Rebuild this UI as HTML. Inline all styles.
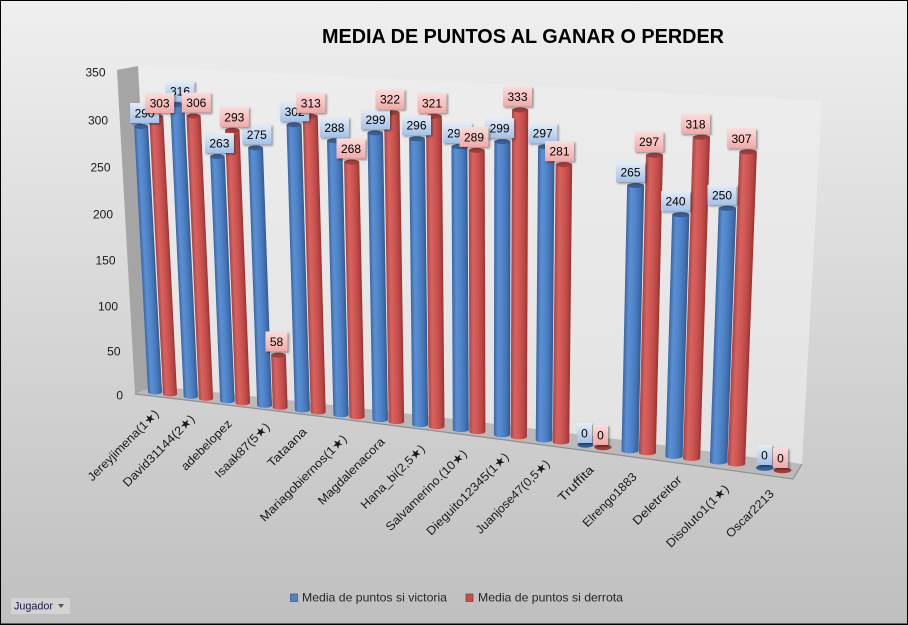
<!DOCTYPE html>
<html>
<head>
<meta charset="utf-8">
<style>
html,body{margin:0;padding:0;background:#fff;}
svg{display:block;}
.lb rect{fill:url(#lB);filter:url(#sh);}
.lr rect{fill:url(#lR);filter:url(#sh);}
.lb text,.lr text{font-family:"Liberation Sans",sans-serif;font-size:12px;text-anchor:middle;fill:#000;}
.ax{font-family:"Liberation Sans",sans-serif;font-size:12px;fill:#1a1a1a;text-anchor:end;}
.cat{font-family:"Liberation Sans","DejaVu Sans",sans-serif;font-size:12px;fill:#1a1a1a;text-anchor:middle;}
</style>
</head>
<body>
<svg width="908" height="625" viewBox="0 0 908 625" xmlns="http://www.w3.org/2000/svg">
<defs>
<linearGradient id="bgG" x1="0" y1="0" x2="0" y2="1"><stop offset="0" stop-color="#efefef"/><stop offset="1" stop-color="#bfbfbf"/></linearGradient>
<linearGradient id="wallG" gradientUnits="userSpaceOnUse" x1="0" y1="66" x2="0" y2="464"><stop offset="0" stop-color="#ededed"/><stop offset="1" stop-color="#e2e2e2"/></linearGradient>
<linearGradient id="bB" x1="0" y1="0" x2="1" y2="0"><stop offset="0" stop-color="#3a66a3"/><stop offset="0.25" stop-color="#5a8fd5"/><stop offset="0.5" stop-color="#5286ca"/><stop offset="0.8" stop-color="#4272b2"/><stop offset="1" stop-color="#32598f"/></linearGradient>
<linearGradient id="rB" x1="0" y1="0" x2="1" y2="0"><stop offset="0" stop-color="#ac4340"/><stop offset="0.25" stop-color="#d9625f"/><stop offset="0.5" stop-color="#cf5855"/><stop offset="0.8" stop-color="#ba4744"/><stop offset="1" stop-color="#953432"/></linearGradient>
<linearGradient id="lB" x1="0" y1="0" x2="0" y2="1"><stop offset="0" stop-color="#e4edf8"/><stop offset="1" stop-color="#a3c2e8"/></linearGradient>
<linearGradient id="lR" x1="0" y1="0" x2="0" y2="1"><stop offset="0" stop-color="#fddcdb"/><stop offset="1" stop-color="#f0aaa8"/></linearGradient>
<filter id="sh" x="-30%" y="-30%" width="170%" height="170%"><feDropShadow dx="1.5" dy="1.5" stdDeviation="1" flood-color="#000" flood-opacity="0.4"/></filter>
</defs>

<!-- background -->
<rect x="0" y="0" width="908" height="625" fill="url(#bgG)"/>

<!-- walls and floor -->
<path d="M138,66 L822,101 L802,464 Q478,419 155,386 Z" fill="url(#wallG)"/>
<path d="M117,70 L138,66 L155,386 L135,394 Z" fill="#a5a5a5"/>
<path d="M135,394 Q450,431 793,479 L802,464 Q478,419 155,386 Z" fill="#bababa"/>
<path d="M135,394 Q450,431 793,479 L802,464" fill="none" stroke="#8f8f8f" stroke-width="1.2"/>

<!-- y axis labels -->
<text class="ax" x="105.5" y="76.3">350</text>
<text class="ax" x="108" y="124.3">300</text>
<text class="ax" x="110.5" y="171.3">250</text>
<text class="ax" x="113" y="218.3">200</text>
<text class="ax" x="115.5" y="264.3">150</text>
<text class="ax" x="118" y="310.3">100</text>
<text class="ax" x="120.5" y="355.3">50</text>
<text class="ax" x="123" y="399.3">0</text>

<!-- bars -->
<g fill="url(#bB)" transform="translate(155,392) skewX(2.98)"><rect x="-7" y="-265.5" width="14" height="265.5"/><ellipse cx="0" cy="0" rx="7" ry="2.5"/><ellipse cx="0" cy="-265.5" rx="7" ry="2.5" fill="#365f98"/></g>
<g fill="url(#rB)" transform="translate(170,394) skewX(2.85)"><rect x="-7" y="-277.5" width="14" height="277.5"/><ellipse cx="0" cy="0" rx="7" ry="2.5"/><ellipse cx="0" cy="-277.5" rx="7" ry="2.5" fill="#a23c3a"/></g>

<g fill="url(#bB)" transform="translate(190.8,396.4) skewX(2.66)"><rect x="-7.1" y="-291.8" width="14.2" height="291.8"/><ellipse cx="0" cy="0" rx="7.1" ry="2.5"/><ellipse cx="0" cy="-291.8" rx="7.1" ry="2.5" fill="#365f98"/></g>
<g fill="url(#rB)" transform="translate(206,398.4) skewX(2.53)"><rect x="-7.1" y="-282.4" width="14.2" height="282.4"/><ellipse cx="0" cy="0" rx="7.1" ry="2.5"/><ellipse cx="0" cy="-282.4" rx="7.1" ry="2.5" fill="#a23c3a"/></g>

<g fill="url(#bB)" transform="translate(227.4,400.8) skewX(2.34)"><rect x="-7.25" y="-244.3" width="14.5" height="244.3"/><ellipse cx="0" cy="0" rx="7.25" ry="2.5"/><ellipse cx="0" cy="-244.3" rx="7.25" ry="2.5" fill="#365f98"/></g>
<g fill="url(#rB)" transform="translate(242.8,402.8) skewX(2.21)"><rect x="-7.25" y="-272.5" width="14.5" height="272.5"/><ellipse cx="0" cy="0" rx="7.25" ry="2.5"/><ellipse cx="0" cy="-272.5" rx="7.25" ry="2.5" fill="#a23c3a"/></g>

<g fill="url(#bB)" transform="translate(264.6,405.4) skewX(2.01)"><rect x="-7.4" y="-257.5" width="14.8" height="257.5"/><ellipse cx="0" cy="0" rx="7.4" ry="2.5"/><ellipse cx="0" cy="-257.5" rx="7.4" ry="2.5" fill="#365f98"/></g>
<g fill="url(#rB)" transform="translate(280.2,407.4) skewX(1.87)"><rect x="-7.4" y="-52.3" width="14.8" height="52.3"/><ellipse cx="0" cy="0" rx="7.4" ry="2.5"/><ellipse cx="0" cy="-52.3" rx="7.4" ry="2.5" fill="#a23c3a"/></g>

<g fill="url(#bB)" transform="translate(302.4,410) skewX(1.68)"><rect x="-7.5" y="-285.2" width="15" height="285.2"/><ellipse cx="0" cy="0" rx="7.5" ry="2.5"/><ellipse cx="0" cy="-285.2" rx="7.5" ry="2.5" fill="#365f98"/></g>
<g fill="url(#rB)" transform="translate(318.2,412) skewX(1.54)"><rect x="-7.5" y="-295.7" width="15" height="295.7"/><ellipse cx="0" cy="0" rx="7.5" ry="2.5"/><ellipse cx="0" cy="-295.7" rx="7.5" ry="2.5" fill="#a23c3a"/></g>

<g fill="url(#bB)" transform="translate(341,414.8) skewX(1.34)"><rect x="-7.6" y="-274" width="15.2" height="274"/><ellipse cx="0" cy="0" rx="7.6" ry="2.5"/><ellipse cx="0" cy="-274" rx="7.6" ry="2.5" fill="#365f98"/></g>
<g fill="url(#rB)" transform="translate(357,416.8) skewX(1.2)"><rect x="-7.6" y="-254.8" width="15.2" height="254.8"/><ellipse cx="0" cy="0" rx="7.6" ry="2.5"/><ellipse cx="0" cy="-254.8" rx="7.6" ry="2.5" fill="#a23c3a"/></g>

<g fill="url(#bB)" transform="translate(380.2,419.6) skewX(0.99)"><rect x="-7.75" y="-286.7" width="15.5" height="286.7"/><ellipse cx="0" cy="0" rx="7.75" ry="2.5"/><ellipse cx="0" cy="-286.7" rx="7.75" ry="2.5" fill="#365f98"/></g>
<g fill="url(#rB)" transform="translate(396.4,421.6) skewX(0.85)"><rect x="-7.75" y="-308.9" width="15.5" height="308.9"/><ellipse cx="0" cy="0" rx="7.75" ry="2.5"/><ellipse cx="0" cy="-308.9" rx="7.75" ry="2.5" fill="#a23c3a"/></g>

<g fill="url(#bB)" transform="translate(420.2,424.6) skewX(0.64)"><rect x="-7.9" y="-285.9" width="15.8" height="285.9"/><ellipse cx="0" cy="0" rx="7.9" ry="2.5"/><ellipse cx="0" cy="-285.9" rx="7.9" ry="2.5" fill="#365f98"/></g>
<g fill="url(#rB)" transform="translate(436.6,426.6) skewX(0.5)"><rect x="-7.9" y="-310.3" width="15.8" height="310.3"/><ellipse cx="0" cy="0" rx="7.9" ry="2.5"/><ellipse cx="0" cy="-310.3" rx="7.9" ry="2.5" fill="#a23c3a"/></g>

<g fill="url(#bB)" transform="translate(460.8,429.6) skewX(0.28)"><rect x="-8" y="-283.1" width="16" height="283.1"/><ellipse cx="0" cy="0" rx="8" ry="2.5"/><ellipse cx="0" cy="-283.1" rx="8" ry="2.5" fill="#365f98"/></g>
<g fill="url(#rB)" transform="translate(477.4,431.6) skewX(0.14)"><rect x="-8" y="-281.2" width="16" height="281.2"/><ellipse cx="0" cy="0" rx="8" ry="2.5"/><ellipse cx="0" cy="-281.2" rx="8" ry="2.5" fill="#a23c3a"/></g>

<g fill="url(#bB)" transform="translate(502,434.8) skewX(-0.08)"><rect x="-8.1" y="-293.2" width="16.2" height="293.2"/><ellipse cx="0" cy="0" rx="8.1" ry="2.5"/><ellipse cx="0" cy="-293.2" rx="8.1" ry="2.5" fill="#365f98"/></g>
<g fill="url(#rB)" transform="translate(518.8,436.8) skewX(-0.23)"><rect x="-8.1" y="-326.8" width="16.2" height="326.8"/><ellipse cx="0" cy="0" rx="8.1" ry="2.5"/><ellipse cx="0" cy="-326.8" rx="8.1" ry="2.5" fill="#a23c3a"/></g>

<g fill="url(#bB)" transform="translate(544,440) skewX(-0.45)"><rect x="-8.25" y="-293.3" width="16.5" height="293.3"/><ellipse cx="0" cy="0" rx="8.25" ry="2.5"/><ellipse cx="0" cy="-293.3" rx="8.25" ry="2.5" fill="#365f98"/></g>
<g fill="url(#rB)" transform="translate(561,442) skewX(-0.6)"><rect x="-8.25" y="-277.4" width="16.5" height="277.4"/><ellipse cx="0" cy="0" rx="8.25" ry="2.5"/><ellipse cx="0" cy="-277.4" rx="8.25" ry="2.5" fill="#a23c3a"/></g>

<!-- Truffita zero disks -->
<ellipse cx="585.5" cy="444.8" rx="8" ry="3" fill="#365f98"/>
<ellipse cx="603" cy="447.3" rx="8.5" ry="3" fill="#a23c3a"/>

<g fill="url(#bB)" transform="translate(630,450.8) skewX(-1.21)"><rect x="-8.5" y="-265.3" width="17" height="265.3"/><ellipse cx="0" cy="0" rx="8.5" ry="2.5"/><ellipse cx="0" cy="-265.3" rx="8.5" ry="2.5" fill="#365f98"/></g>
<g fill="url(#rB)" transform="translate(647.4,452.8) skewX(-1.36)"><rect x="-8.5" y="-297.6" width="17" height="297.6"/><ellipse cx="0" cy="0" rx="8.5" ry="2.5"/><ellipse cx="0" cy="-297.6" rx="8.5" ry="2.5" fill="#a23c3a"/></g>

<g fill="url(#bB)" transform="translate(674,456.4) skewX(-1.6)"><rect x="-8.6" y="-241.7" width="17.2" height="241.7"/><ellipse cx="0" cy="0" rx="8.6" ry="2.5"/><ellipse cx="0" cy="-241.7" rx="8.6" ry="2.5" fill="#365f98"/></g>
<g fill="url(#rB)" transform="translate(691.6,458.4) skewX(-1.75)"><rect x="-8.6" y="-321.1" width="17.2" height="321.1"/><ellipse cx="0" cy="0" rx="8.6" ry="2.5"/><ellipse cx="0" cy="-321.1" rx="8.6" ry="2.5" fill="#a23c3a"/></g>

<g fill="url(#bB)" transform="translate(718.6,462) skewX(-1.99)"><rect x="-8.75" y="-253.7" width="17.5" height="253.7"/><ellipse cx="0" cy="0" rx="8.75" ry="2.5"/><ellipse cx="0" cy="-253.7" rx="8.75" ry="2.5" fill="#365f98"/></g>
<g fill="url(#rB)" transform="translate(736.4,464) skewX(-2.15)"><rect x="-8.75" y="-312.1" width="17.5" height="312.1"/><ellipse cx="0" cy="0" rx="8.75" ry="2.5"/><ellipse cx="0" cy="-312.1" rx="8.75" ry="2.5" fill="#a23c3a"/></g>

<!-- Oscar zero disks -->
<ellipse cx="765" cy="467.8" rx="9" ry="3" fill="#365f98"/>
<ellipse cx="782.5" cy="470.3" rx="9" ry="3" fill="#a23c3a"/>

<!-- blue labels -->
<g class="lb"><rect x="130.1" y="103" width="29" height="20"/><text x="144.6" y="117.5">290</text></g>
<g class="lb"><rect x="165.5" y="81.1" width="29" height="20"/><text x="180" y="95.6">316</text></g>
<g class="lb"><rect x="204.9" y="133" width="29" height="20"/><text x="219.4" y="147.5">263</text></g>
<g class="lb"><rect x="242.3" y="124.4" width="29" height="20"/><text x="256.8" y="138.9">275</text></g>
<g class="lb"><rect x="280.1" y="101.3" width="29" height="20"/><text x="294.6" y="115.8">302</text></g>
<g class="lb"><rect x="319.9" y="117.3" width="29" height="20"/><text x="334.4" y="131.8">288</text></g>
<g class="lb"><rect x="361" y="109.4" width="29" height="20"/><text x="375.5" y="123.9">299</text></g>
<g class="lb"><rect x="402" y="115.2" width="29" height="20"/><text x="416.5" y="129.7">296</text></g>
<g class="lb"><rect x="442.7" y="123" width="29" height="20"/><text x="457.2" y="137.5">291</text></g>
<g class="lb"><rect x="485.1" y="118.1" width="29" height="20"/><text x="499.6" y="132.6">299</text></g>
<g class="lb"><rect x="528.2" y="123.2" width="29" height="20"/><text x="542.7" y="137.7">297</text></g>
<g class="lb"><rect x="577" y="423" width="15" height="20"/><text x="584.5" y="437.5">0</text></g>
<g class="lb"><rect x="616" y="162" width="29" height="20"/><text x="630.5" y="176.5">265</text></g>
<g class="lb"><rect x="661" y="191.2" width="29" height="20"/><text x="675.5" y="205.7">240</text></g>
<g class="lb"><rect x="707.5" y="184.8" width="29" height="20"/><text x="722" y="199.3">250</text></g>
<g class="lb"><rect x="757" y="445" width="15" height="20"/><text x="764.5" y="459.5">0</text></g>

<!-- red labels -->
<g class="lr"><rect x="145.1" y="93" width="29" height="20"/><text x="159.6" y="107.5">303</text></g>
<g class="lr"><rect x="181.8" y="92.5" width="29" height="20"/><text x="196.3" y="107">306</text></g>
<g class="lr"><rect x="219.8" y="106.8" width="29" height="20"/><text x="234.3" y="121.3">293</text></g>
<g class="lr"><rect x="265.5" y="331.5" width="22" height="20"/><text x="276.5" y="346">58</text></g>
<g class="lr"><rect x="296.3" y="92.8" width="29" height="20"/><text x="310.8" y="107.3">313</text></g>
<g class="lr"><rect x="336.5" y="138.5" width="29" height="20"/><text x="351" y="153">268</text></g>
<g class="lr"><rect x="375.5" y="89.2" width="29" height="20"/><text x="390" y="103.7">322</text></g>
<g class="lr"><rect x="417.5" y="92.8" width="29" height="20"/><text x="432" y="107.3">321</text></g>
<g class="lr"><rect x="459.5" y="126.9" width="29" height="20"/><text x="474" y="141.4">289</text></g>
<g class="lr"><rect x="503" y="86.5" width="29" height="20"/><text x="517.5" y="101">333</text></g>
<g class="lr"><rect x="545" y="141.1" width="29" height="20"/><text x="559.5" y="155.6">281</text></g>
<g class="lr"><rect x="593" y="425" width="15" height="20"/><text x="600.5" y="439.5">0</text></g>
<g class="lr"><rect x="634.5" y="131.7" width="29" height="20"/><text x="649" y="146.2">297</text></g>
<g class="lr"><rect x="681" y="113.8" width="29" height="20"/><text x="695.5" y="128.3">318</text></g>
<g class="lr"><rect x="727" y="128.4" width="29" height="20"/><text x="741.5" y="142.9">307</text></g>
<g class="lr"><rect x="773" y="448" width="15" height="20"/><text x="780.5" y="462.5">0</text></g>

<!-- category labels -->
<text class="cat" transform="translate(123.4,445.6) rotate(-45)" dy="0.3em" textLength="95" lengthAdjust="spacingAndGlyphs">Jereyjimena(1★)</text>
<text class="cat" transform="translate(159,451) rotate(-45)" dy="0.3em" textLength="96" lengthAdjust="spacingAndGlyphs">David31144(2★)</text>
<text class="cat" transform="translate(206.7,445.3) rotate(-45)" dy="0.3em" textLength="66" lengthAdjust="spacingAndGlyphs">adebelopez</text>
<text class="cat" transform="translate(242.5,450.5) rotate(-45)" dy="0.3em" textLength="72" lengthAdjust="spacingAndGlyphs">Isaak87(5★)</text>
<text class="cat" transform="translate(287.3,447.7) rotate(-45)" dy="0.3em" textLength="50" lengthAdjust="spacingAndGlyphs">Tataana</text>
<text class="cat" transform="translate(303.6,478.4) rotate(-45)" dy="0.3em" textLength="117" lengthAdjust="spacingAndGlyphs">Mariagobiernos(1★)</text>
<text class="cat" transform="translate(351.5,471.5) rotate(-45)" dy="0.3em" textLength="89" lengthAdjust="spacingAndGlyphs">Magdalenacora</text>
<text class="cat" transform="translate(393,477) rotate(-45)" dy="0.3em" textLength="85" lengthAdjust="spacingAndGlyphs">Hana_bi(2,5★)</text>
<text class="cat" transform="translate(426.5,490.5) rotate(-45)" dy="0.3em" textLength="109" lengthAdjust="spacingAndGlyphs">Salvamerino.(10★)</text>
<text class="cat" transform="translate(467.8,494.2) rotate(-45)" dy="0.3em" textLength="111" lengthAdjust="spacingAndGlyphs">Dieguito12345(1★)</text>
<text class="cat" transform="translate(513,497) rotate(-45)" dy="0.3em" textLength="99" lengthAdjust="spacingAndGlyphs">Juanjose47(0,5★)</text>
<text class="cat" transform="translate(576.1,483.9) rotate(-45)" dy="0.3em" textLength="45" lengthAdjust="spacingAndGlyphs">Truffita</text>
<text class="cat" transform="translate(609.9,500.1) rotate(-45)" dy="0.3em" textLength="71" lengthAdjust="spacingAndGlyphs">Elrengo1883</text>
<text class="cat" transform="translate(657.4,500.6) rotate(-45)" dy="0.3em" textLength="64" lengthAdjust="spacingAndGlyphs">Deletreitor</text>
<text class="cat" transform="translate(697.7,516.3) rotate(-45)" dy="0.3em" textLength="83" lengthAdjust="spacingAndGlyphs">Disoluto1(1★)</text>
<text class="cat" transform="translate(750.1,513.9) rotate(-45)" dy="0.3em" textLength="62" lengthAdjust="spacingAndGlyphs">Oscar2213</text>

<!-- title -->
<text x="523" y="43" text-anchor="middle" font-family="Liberation Sans, sans-serif" font-weight="bold" font-size="20" fill="#000" textLength="402" lengthAdjust="spacingAndGlyphs">MEDIA DE PUNTOS AL GANAR O PERDER</text>

<!-- legend -->
<rect x="290.5" y="594" width="7" height="7.5" fill="#4f81bd" stroke="#3a63a0" stroke-width="0.8"/>
<text x="302" y="601.5" font-family="Liberation Sans, sans-serif" font-size="12" fill="#262626" textLength="145" lengthAdjust="spacingAndGlyphs">Media de puntos si victoria</text>
<rect x="466" y="594" width="7" height="7.5" fill="#c0504d" stroke="#9b3c3a" stroke-width="0.8"/>
<text x="478" y="601.5" font-family="Liberation Sans, sans-serif" font-size="12" fill="#262626" textLength="145" lengthAdjust="spacingAndGlyphs">Media de puntos si derrota</text>

<!-- Jugador button -->
<rect x="11" y="598" width="59" height="16" fill="#d3d3d3"/>
<text x="14" y="609.5" font-family="Liberation Sans, sans-serif" font-size="11" fill="#17174a" textLength="39" lengthAdjust="spacingAndGlyphs">Jugador</text>
<polygon points="58,604 64,604 61,608" fill="#555"/>

<!-- border -->
<rect x="0.5" y="0.5" width="907" height="623.5" fill="none" stroke="#000" stroke-width="1"/>
<line x1="0" y1="624.5" x2="908" y2="624.5" stroke="#000" stroke-width="1"/>
</svg>
</body>
</html>
